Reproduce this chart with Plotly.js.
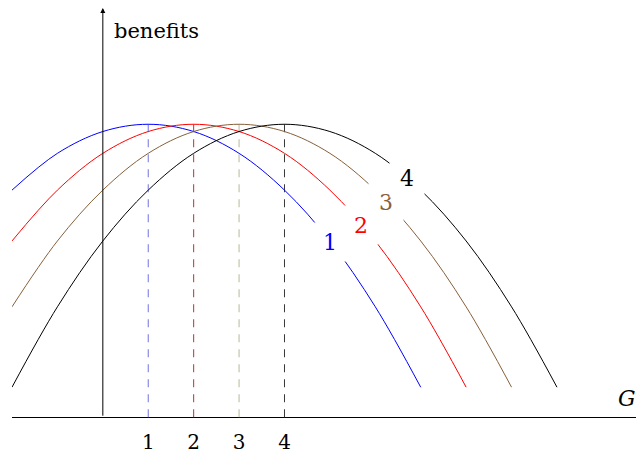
<!DOCTYPE html>
<html>
<head>
<meta charset="utf-8">
<script src="https://cdn.plot.ly/plotly-3.0.1.min.js"></script>
<style>html,body{margin:0;padding:0;background:#fff;}#chart{width:638px;height:454px;}</style>
</head>
<body>
<div id="chart"></div>
<script>
// Data
const curveNames = ['1', '2', '3', '4'];
const curveColors = ['#0000ff', '#ff0000', '#86603a', '#000000'];
const dashColors = ['#7373dc', '#c03030', '#b8b894', '#383838'];
const peakX = [1, 2, 3, 4];
const peakY = [6.45, 6.45, 6.45, 6.45];

const x1 = [-2, -1, 0, 1, 2, 3, 4, 5, 6, 7];
const y1 = [5.00, 5.81, 6.29, 6.45, 6.29, 5.81, 5.00, 3.88, 2.43, 0.66];
const x2 = [-2, -1, 0, 1, 2, 3, 4, 5, 6, 7, 8];
const y2 = [3.88, 5.00, 5.81, 6.29, 6.45, 6.29, 5.81, 5.00, 3.88, 2.43, 0.66];
const x3 = [-2, -1, 0, 1, 2, 3, 4, 5, 6, 7, 8, 9];
const y3 = [2.43, 3.88, 5.00, 5.81, 6.29, 6.45, 6.29, 5.81, 5.00, 3.88, 2.43, 0.66];
const x4 = [-2, -1, 0, 1, 2, 3, 4, 5, 6, 7, 8, 9, 10];
const y4 = [0.66, 2.43, 3.88, 5.00, 5.81, 6.29, 6.45, 6.29, 5.81, 5.00, 3.88, 2.43, 0.66];

const labelX = [5.00, 5.69, 6.24, 6.70];
const labelY = [3.86, 4.24, 4.74, 5.26];

const tickVals = [1, 2, 3, 4];
const tickText = ['1', '2', '3', '4'];

const xLabel = 'G';
const yLabel = 'benefits';

const serif = 'DejaVu Serif, Liberation Serif, serif';
const xRange = [-2, 11.74];
const yRange = [-0.15, 9.01];

const traces = [];
// dashed drop lines
peakX.forEach((k, i) => {
  traces.push({
    x: [k, k], y: [peakY[i], yRange[0] + 0.03],
    mode: 'lines', type: 'scatter', hoverinfo: 'skip', showlegend: false,
    line: {color: dashColors[i], width: 1, dash: '8px,7px'}
  });
});
const xs = [x1, x2, x3, x4];
const ys = [y1, y2, y3, y4];
xs.forEach((xx, i) => {
  traces.push({
    x: xx, y: ys[i], mode: 'lines', type: 'scatter', showlegend: false,
    line: {color: curveColors[i], width: 1, shape: 'spline', smoothing: 1}
  });
});

const annotations = [];
curveNames.forEach((n, i) => {
  annotations.push({
    x: labelX[i], y: labelY[i], xref: 'x', yref: 'y', text: n, showarrow: false,
    font: {family: serif, size: 22, color: curveColors[i]},
    bgcolor: '#ffffff', width: 34, height: 38, borderpad: 0,
    xanchor: 'center', yanchor: 'middle'
  });
});
// y axis with arrow head
annotations.push({
  x: 0, y: yRange[1], xref: 'x', yref: 'y', text: '', showarrow: true,
  axref: 'x', ayref: 'y', ax: 0, ay: 0,
  arrowhead: 2, arrowsize: 1, arrowwidth: 1, arrowcolor: '#000', standoff: 0
});
annotations.push({
  x: 0.20, y: 8.50, xref: 'x', yref: 'y', text: yLabel, showarrow: false,
  xanchor: 'left', yanchor: 'middle',
  font: {family: serif, size: 21, color: '#000'}
});
annotations.push({
  x: 11.55, y: 0.42, xref: 'x', yref: 'y', text: '<i>' + xLabel + '</i>', showarrow: false,
  xanchor: 'center', yanchor: 'middle',
  font: {family: serif, size: 22, color: '#000'}
});

const layout = {
  width: 638, height: 454,
  margin: {l: 12, r: 2, t: 8, b: 30, pad: 0},
  paper_bgcolor: '#ffffff', plot_bgcolor: '#ffffff',
  showlegend: false,
  xaxis: {
    range: xRange, showgrid: false, showline: false, zeroline: false,
    tickvals: tickVals, ticktext: tickText, ticks: '', ticklabelstandoff: 4,
    tickfont: {family: serif, size: 20, color: '#000'}
  },
  yaxis: {
    range: yRange, showgrid: false, showline: false, showticklabels: false,
    zeroline: true, zerolinecolor: '#000', zerolinewidth: 1, ticks: ''
  },
  annotations: annotations
};

Plotly.newPlot('chart', traces, layout, {staticPlot: true, displayModeBar: false});
</script>
</body>
</html>
